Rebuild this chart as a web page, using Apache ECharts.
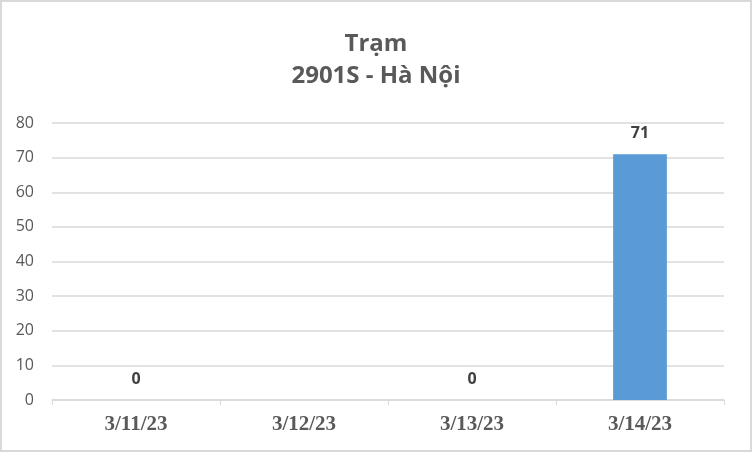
<!DOCTYPE html>
<html>
<head>
<meta charset="utf-8">
<script src="https://cdn.jsdelivr.net/npm/echarts@6/dist/echarts.min.js"></script>
<style>
  html, body { margin: 0; padding: 0; background: #fff; }
  #chart { width: 752px; height: 452px; box-sizing: border-box; border: 2px solid #d9d9d9; }
</style>
</head>
<body>
<div id="chart"></div>
<script>
// dữ liệu biểu đồ
var categories = ['3/11/23', '3/12/23', '3/13/23', '3/14/23'];
var values = [0, null, 0, 71];
var yTicks = { min: 0, max: 80, step: 10 };

var chart = echarts.init(document.getElementById('chart'));

var option = {
    animation: false,
    title: {
        text: 'Trạm\n2901S - Hà Nội',
        left: 'center',
        top: 21,
        textStyle: {
            fontFamily: 'Open Sans',
            fontWeight: 'bold',
            fontSize: 24,
            color: '#595959',
            lineHeight: 32
        }
    },
    grid: {
        left: 50,
        right: 26,
        top: 121,
        bottom: 50
    },
    xAxis: {
        type: 'category',
        data: categories,
        axisLine: { lineStyle: { color: '#d9d9d9', width: 1.5 } },
        axisTick: { show: true, length: 5, lineStyle: { color: '#d9d9d9' } },
        axisLabel: {
            margin: 14,
            fontFamily: 'Liberation Serif',
            fontWeight: 'bold',
            fontSize: 21,
            color: '#595959'
        }
    },
    yAxis: {
        type: 'value',
        min: yTicks.min,
        max: yTicks.max,
        interval: yTicks.step,
        axisLine: { show: false },
        axisTick: { show: false },
        splitLine: { lineStyle: { color: '#d9d9d9', width: 1.5 } },
        axisLabel: {
            margin: 18,
            fontFamily: 'Open Sans',
            fontSize: 16,
            color: '#595959'
        }
    },
    series: [
        {
            type: 'bar',
            data: values,
            barWidth: '32%',
            itemStyle: { color: '#5b9bd5' },
            label: {
                show: true,
                position: 'top',
                distance: 13,
                fontFamily: 'Open Sans',
                fontWeight: 'bold',
                fontSize: 16,
                color: '#404040'
            }
        }
    ]
};

chart.setOption(option);
window.onresize = function () { chart.resize(); };
</script>
</body>
</html>
